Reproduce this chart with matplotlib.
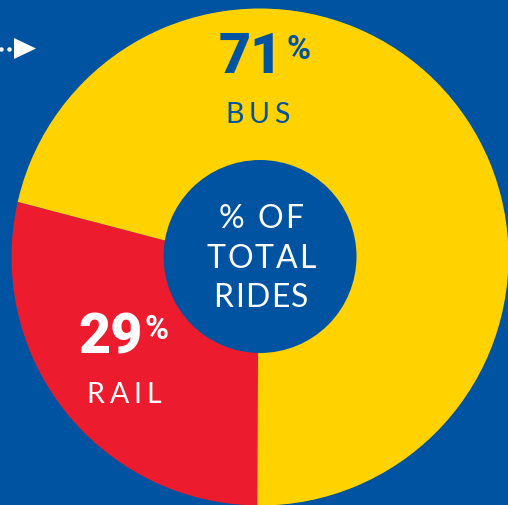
import matplotlib
matplotlib.use("Agg")
import matplotlib.pyplot as plt
from matplotlib.patches import Circle, Annulus

# ---- data ----
categories = ["RAIL", "BUS"]
shares = [29, 71]
share_labels = ["29", "71"]
center_label = ["% OF", "TOTAL", "RIDES"]

# ---- style ----
BLUE = "#0053A1"
YELLOW = "#FFD200"
RED = "#EC1C2E"
W, H = 508, 505

fig = plt.figure(figsize=(W / 100, H / 100), dpi=100, facecolor=BLUE)
ax = fig.add_axes([0, 0, 1, 1])
ax.set_facecolor(BLUE)


def Y(v):
    return H - v


# wedge apex and ring outline
apex = (258.5, Y(265))
ring_c = (260, Y(257))
R_OUT, R_IN = 248.5, 96.5

wedges, _ = ax.pie(shares, colors=[RED, YELLOW], startangle=165.3, counterclock=True,
                   radius=300, center=apex, frame=True,
                   wedgeprops=dict(linewidth=0, antialiased=True, zorder=1))
# blue mask outside the ring, and the blue hole in the middle
ax.add_patch(Annulus(ring_c, 700, 700 - R_OUT, color=BLUE, lw=0, zorder=2))
ax.add_patch(Circle((260, Y(256.5)), R_IN, color=BLUE, lw=0, zorder=3))

ax.set_xlim(0, W)
ax.set_ylim(0, H)
ax.set_aspect("equal")
ax.axis("off")

renderer = fig.canvas.get_renderer()


def tracked(xc, ybase, s, track, **kw):
    """Draw string s centred on xc with extra letter spacing (pixels)."""
    texts = [ax.text(0, Y(ybase), ch, ha="left", va="baseline", zorder=5, **kw)
             for ch in s]
    widths = []
    for t, ch in zip(texts, s):
        if ch == " ":
            t.set_text("n")
            w = t.get_window_extent(renderer).width * 0.55
            t.set_text(" ")
        else:
            w = t.get_window_extent(renderer).width
        widths.append(w)
    total = sum(widths) + track * (len(s) - 1)
    x = xc - total / 2
    for t, w in zip(texts, widths):
        t.set_x(x)
        x += w + track


NUM_FONT = dict(family=["Roboto", "DejaVu Sans"], weight="black")
LBL_FONT = dict(family=["Lato", "DejaVu Sans"], weight="normal")
PCT_FONT = dict(family=["Roboto", "DejaVu Sans"], weight="bold")

# BUS label
ax.text(283, Y(73), share_labels[1], ha="right", va="baseline", fontsize=40,
        color=BLUE, zorder=5, **NUM_FONT)
ax.text(286, Y(59), "%", ha="left", va="baseline", fontsize=23.5,
        color=BLUE, zorder=5, **PCT_FONT)
tracked(257.5, 123, categories[1], 4.5, fontsize=20.5, color=BLUE, **LBL_FONT)

# RAIL label
ax.text(143, Y(354), share_labels[0], ha="right", va="baseline", fontsize=40,
        color="white", zorder=5, **NUM_FONT)
ax.text(145, Y(339), "%", ha="left", va="baseline", fontsize=23.5,
        color="white", zorder=5, **PCT_FONT)
tracked(124, 403, categories[0], 5.0, fontsize=20.5, color="white", **LBL_FONT)

# centre label
for line, base in zip(center_label, [228, 268, 307]):
    tracked(261, base, line, 1.6, fontsize=23, color="white", **LBL_FONT)

# dotted arrow decoration at top-left
ax.plot([1, 9], [Y(49), Y(49)], ls="none", marker="o", ms=3.2, color="white",
        markeredgewidth=0, zorder=5)
ax.fill([14, 14, 36], [Y(38), Y(59), Y(48.5)], color="white", lw=0, zorder=5)

fig.savefig("out.png", dpi=100, facecolor=BLUE)
